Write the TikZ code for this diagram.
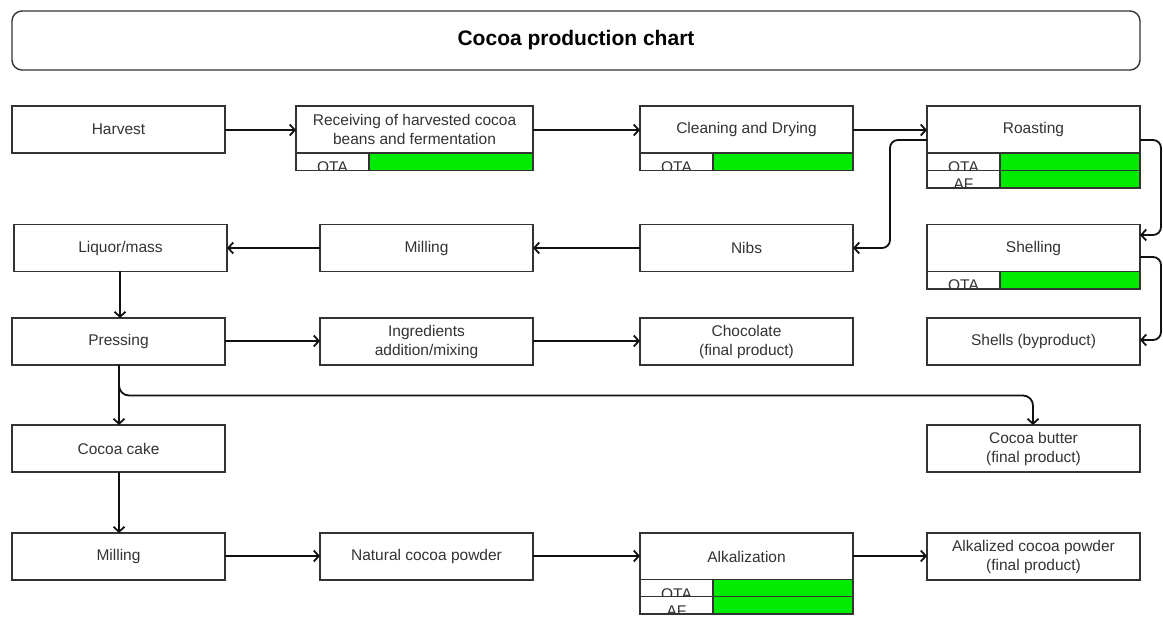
\documentclass[tikz,border=0pt]{standalone}
\usepackage{fontspec}
\setmainfont{Liberation Sans}
\usetikzlibrary{arrows.meta,calc}
\definecolor{bordc}{HTML}{333333}
\definecolor{txtc}{HTML}{333333}
\definecolor{linec}{HTML}{111111}
\definecolor{greenc}{RGB}{0,235,0}
\tikzset{
  box/.style={draw=bordc, line width=1.4pt, outer sep=0pt, fill=white, minimum width=213pt, minimum height=47pt,
    inner sep=0pt, align=center, text=txtc, font=\fontsize{15.5}{19}\selectfont},
  cellbox/.style={draw=bordc, line width=1.4pt, outer sep=0pt, minimum width=73pt, minimum height=17.5pt, inner sep=0pt},
  gcell/.style={draw=bordc, line width=1.4pt, outer sep=0pt, fill=greenc, minimum height=17.5pt, inner sep=0pt},
  lbl/.style={text=txtc, font=\fontsize{15.5}{19}\selectfont, inner sep=0pt},
  conn/.style={draw=linec, line width=1.8pt, -{Straight Barb[length=5pt,width=11pt,line width=1.8pt]}},
}
% name, x, ytop, label, green width
\newcommand\tagrow[5]{%
  \fill[white] (#2,#3) rectangle ++(73,17.5);
  \begin{scope}\clip (#2,#3) rectangle ++(73,17.5);
    \node[lbl,anchor=base] at (#2+36.5,#3+19.5) {#4};
  \end{scope}
  \node[cellbox,anchor=north west] (#1l) at (#2,#3) {};
  \node[gcell,anchor=north west,minimum width=#5pt] (#1g) at (#1l.north east) {};
}
\begin{document}
\begin{tikzpicture}[x=1pt,y=-1pt]
\useasboundingbox (0,0) rectangle (1163,617);
\fill[white] (0,0) rectangle (1163,617);

% title
\node[draw=bordc, line width=1.4pt, rounded corners=10pt, minimum width=1128pt, minimum height=59pt,
  font=\fontsize{21}{25}\selectfont\bfseries, text=black] (title) at (576,40.5) {Cocoa production chart};

% row 1
\node[box] (harvest) at (118.5,129.5) {Harvest};
\node[box, minimum width=237pt] (recv) at (414.5,129.5) {Receiving of harvested cocoa\\beans and fermentation};
\tagrow{recvota}{296}{153}{OTA}{164}
\node[box] (clean) at (746.5,129.5) {Cleaning and Drying};
\tagrow{cleanota}{640}{153}{OTA}{140}
\node[box] (roast) at (1033.5,129.5) {Roasting};
\tagrow{roastota}{927}{153}{OTA}{140}
\tagrow{roastaf}{927}{170.5}{AF}{140}

% row 2
\node[box] (liquor) at (120.5,248) {Liquor/mass};
\node[box] (mill1) at (426.5,248) {Milling};
\node[box] (nibs) at (746.5,248) {Nibs};
\node[box] (shell) at (1033.5,248) {Shelling};
\tagrow{shellota}{927}{271.5}{OTA}{140}

% row 3
\node[box] (press) at (118.5,341.5) {Pressing};
\node[box] (ingr) at (426.5,341.5) {Ingredients\\addition/mixing};
\node[box] (choc) at (746.5,341.5) {Chocolate\\(final product)};
\node[box] (shells) at (1033.5,341.5) {Shells (byproduct)};

% row 4
\node[box] (cake) at (118.5,448.5) {Cocoa cake};
\node[box] (butter) at (1033.5,448.5) {Cocoa butter\\(final product)};

% row 5
\node[box] (mill2) at (118.5,556.5) {Milling};
\node[box] (natural) at (426.5,556.5) {Natural cocoa powder};
\node[box] (alk) at (746.5,556.5) {Alkalization};
\tagrow{alkota}{640}{579.5}{OTA}{140}
\tagrow{alkaf}{640}{596.5}{AF}{140}
\node[box] (alkd) at (1033.5,556.5) {Alkalized cocoa powder\\(final product)};

% connectors
\draw[conn] ([yshift=-0.5pt]harvest.east) -- ([yshift=-0.5pt]recv.west);
\draw[conn] ([yshift=-0.5pt]recv.east) -- ([yshift=-0.5pt]clean.west);
\draw[conn] ([yshift=-0.5pt]clean.east) -- ([yshift=-0.5pt]roast.west);
\draw[conn, rounded corners=8pt] ([yshift=-10.5pt]roast.west) -| ([xshift=37pt]nibs.east) -- (nibs.east);
\draw[conn, rounded corners=8pt] ([yshift=-10.5pt]roast.east) -| ([xshift=21pt,yshift=13pt]shell.east) -- ([yshift=13pt]shell.east);
\draw[conn, rounded corners=8pt] ([yshift=-9pt]shell.east) -| ([xshift=21pt,yshift=1.5pt]shells.east) -- ([yshift=1.5pt]shells.east);
\draw[conn] (nibs.west) -- (mill1.east);
\draw[conn] (mill1.west) -- (liquor.east);
\draw[conn] ([xshift=-0.5pt]liquor.south) -- ([xshift=-0.5pt]liquor.south |- press.north);
\draw[conn] ([yshift=0.5pt]press.east) -- ([yshift=0.5pt]ingr.west);
\draw[conn] ([yshift=0.5pt]ingr.east) -- ([yshift=0.5pt]choc.west);
\draw[conn] ([xshift=0.5pt]press.south) -- ([xshift=0.5pt]cake.north);
\draw[conn, rounded corners=10pt] ([xshift=0.5pt]press.south) |- ([xshift=-0.5pt,yshift=29.5pt]butter.north) -- ([xshift=-0.5pt]butter.north);
\draw[conn] ([xshift=0.5pt]cake.south) -- ([xshift=0.5pt]mill2.north);
\draw[conn] ([yshift=0.5pt]mill2.east) -- ([yshift=0.5pt]natural.west);
\draw[conn] ([yshift=0.5pt]natural.east) -- ([yshift=0.5pt]alk.west);
\draw[conn] ([yshift=0.5pt]alk.east) -- ([yshift=0.5pt]alkd.west);
\end{tikzpicture}
\end{document}
